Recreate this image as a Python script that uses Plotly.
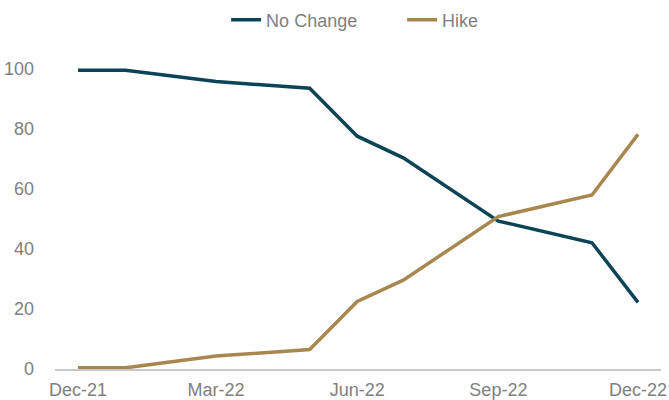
import plotly.graph_objects as go

# FOMC meeting dates (first of month) and implied probabilities (%)
dates = ["2021-12-01", "2022-01-01", "2022-03-01", "2022-05-01", "2022-06-01",
         "2022-07-01", "2022-09-01", "2022-11-01", "2022-12-01"]
no_change = [99.6, 99.6, 95.8, 93.6, 77.6, 70.4, 49.3, 42.1, 22.2]
hike = [0.4, 0.4, 4.3, 6.5, 22.5, 29.6, 50.8, 58.0, 78.2]

y_ticks = [0, 20, 40, 60, 80, 100]

NAVY = "#0b4456"
GOLD = "#a8874e"
GREY = "#808080"
FONT = "Liberation Sans, Arial, sans-serif"

fig = go.Figure()
fig.add_trace(go.Scatter(x=dates, y=no_change, name="No Change", mode="lines",
                         line=dict(color=NAVY, width=3.5)))
fig.add_trace(go.Scatter(x=dates, y=hike, name="Hike", mode="lines",
                         line=dict(color=GOLD, width=3.5)))

fig.update_layout(
    width=669, height=400,
    margin=dict(l=55, r=8, t=39, b=31, autoexpand=False),
    paper_bgcolor="white", plot_bgcolor="white",
    font=dict(family=FONT, size=18, color=GREY),
    showlegend=True,
    legend=dict(orientation="h", xref="container", x=0.338, xanchor="left",
                yref="container", y=0.95, yanchor="middle",
                entrywidth=131, entrywidthmode="pixels",
                font=dict(size=18, color=GREY), tracegroupgap=0),
    xaxis=dict(type="date", range=["2021-11-16", "2022-12-16"],
               tick0="2021-12-01", dtick="M3", tickformat="%b-%y",
               showgrid=False, zeroline=False, showline=True,
               linecolor="#c8c8c8", linewidth=1.5, ticks="",
               ticklabelstandoff=4,
               tickfont=dict(size=18, color=GREY)),
    yaxis=dict(range=[0, 110], tickvals=y_ticks, showgrid=False, zeroline=False,
               showline=False, ticks="", ticklabelstandoff=20,
               tickfont=dict(size=18, color=GREY)),
)

fig.write_html("out.html")
